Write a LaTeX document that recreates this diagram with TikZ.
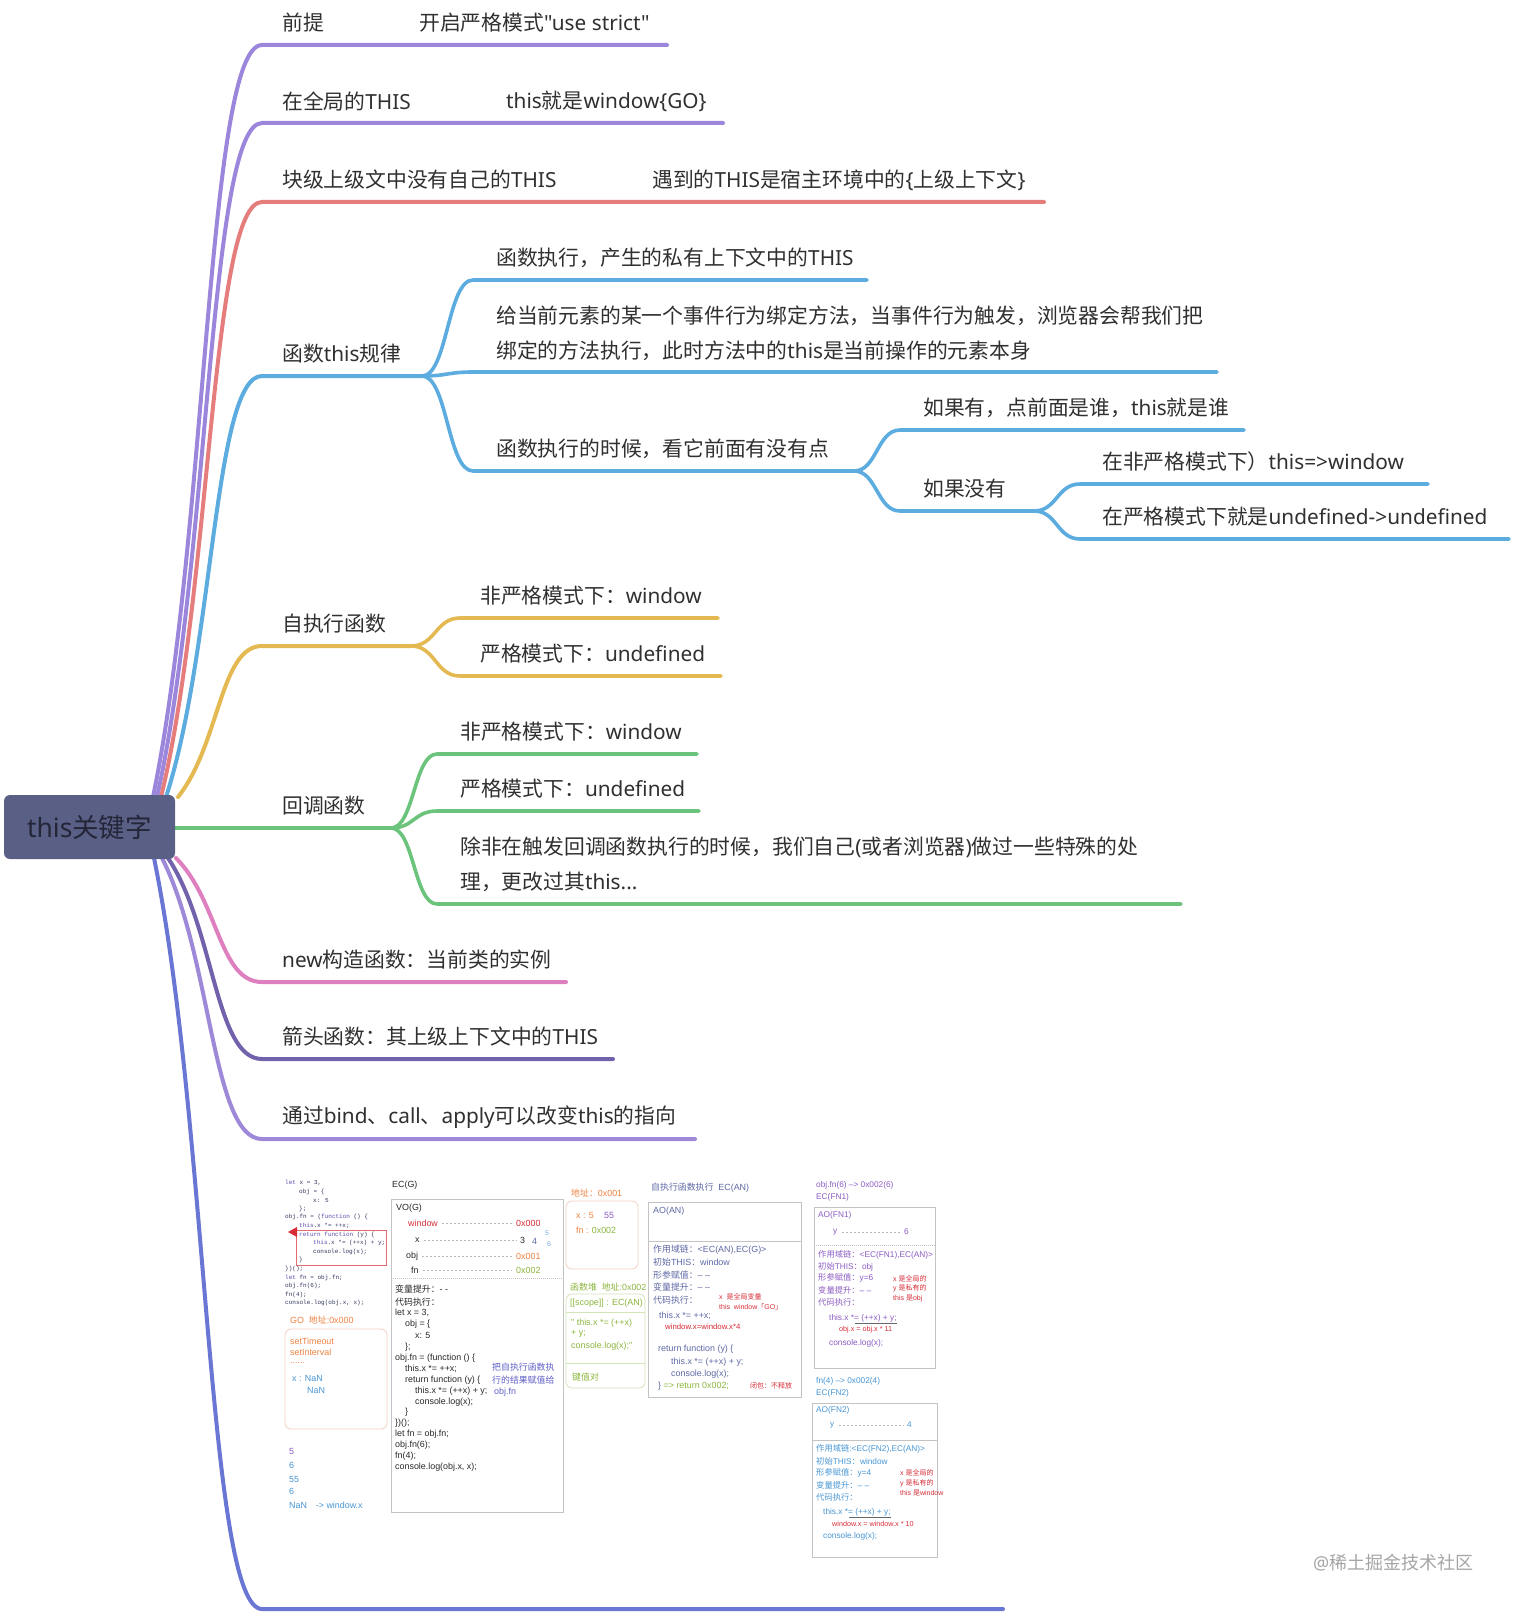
\documentclass[tikz,border=0pt]{standalone}
\usepackage{fontspec}
\setmainfont{Noto Sans}
\newfontfamily\cjkf{Noto Sans CJK SC}
\newfontfamily\latf{Noto Sans}
\newfontfamily\shotf{Liberation Sans}
\newfontfamily\codefont{Liberation Mono}
\usetikzlibrary{calc}
% automatic switching between Latin and CJK fonts
\def\latinback{\latf}
\newXeTeXintercharclass\CJKcls
\newcount\chcnt
\def\setcjkrange#1#2{\chcnt=#1\relax
 \loop \XeTeXcharclass\chcnt=\CJKcls \ifnum\chcnt<#2\relax \advance\chcnt by 1 \repeat}
\setcjkrange{"3000}{"303F}
\setcjkrange{"4E00}{"9FFF}
\setcjkrange{"FF00}{"FFEF}
\XeTeXinterchartoks 0 \CJKcls = {\cjkf}
\XeTeXinterchartoks 4095 \CJKcls = {\cjkf}
\XeTeXinterchartoks \CJKcls 0 = {\latinback}
\XeTeXinterchartoks \CJKcls 4095 = {\latinback}
\XeTeXinterchartokenstate=1
\newcommand\shotsel{\def\latinback{\shotf}\shotf}
\definecolor{cPa}{RGB}{155,134,220}
\definecolor{cR}{RGB}{229,125,125}
\definecolor{cB}{RGB}{92,172,224}
\definecolor{cY}{RGB}{228,185,82}
\definecolor{cG}{RGB}{108,196,124}
\definecolor{cPk}{RGB}{222,128,192}
\definecolor{cDP}{RGB}{114,98,172}
\definecolor{cL}{RGB}{158,136,216}
\definecolor{cBV}{RGB}{106,118,212}
\definecolor{rootfill}{RGB}{90,95,134}
\definecolor{roottext}{RGB}{36,38,56}
\definecolor{txt}{RGB}{48,48,48}
\definecolor{wm}{RGB}{165,165,165}
\definecolor{sred}{RGB}{215,45,55}
\definecolor{sorange}{RGB}{238,130,65}
\definecolor{sgreen}{RGB}{140,182,62}
\definecolor{sblue}{RGB}{72,150,212}
\definecolor{slblue}{RGB}{120,170,225}
\definecolor{sind}{RGB}{95,105,165}
\definecolor{spurple}{RGB}{140,92,195}
\definecolor{sgray}{RGB}{40,40,40}
\definecolor{sbord}{RGB}{195,195,195}
\definecolor{speach}{RGB}{243,208,192}
\definecolor{slgreen}{RGB}{212,228,185}
\definecolor{codekw}{RGB}{95,75,175}
\definecolor{codetx}{RGB}{50,55,95}
\definecolor{snote}{RGB}{95,95,200}
\newcommand\rootlink[4]{\draw[mainline,#1] let \p1=(#2), \p2=(#3) in (\p1) .. controls ({\x1+0.5*(\x2-\x1)},{\y1+0.35*(\y2-\y1)}) and ({\x2-0.5*(\x2-\x1)},\y2) .. (\p2) -- (#4);}
\newcommand\sublink[4]{\draw[subline,#1] let \p1=(#2), \p2=(#3) in (\p1) .. controls ({\x1+0.5*(\x2-\x1)},\y1) and ({\x2-0.5*(\x2-\x1)},\y2) .. (\p2) -- (#4);}
\newcommand\kw[1]{\textcolor{codekw}{#1}}
\begin{document}
\begin{tikzpicture}[x=1pt,y=-1pt,
 lbl/.style={anchor=west, inner sep=0pt, text=txt, font=\fontsize{20.8}{24}\selectfont},
 mainline/.style={line width=4pt, line cap=round},
 subline/.style={line width=3.6pt, line cap=round},
 sm/.style={anchor=west, inner sep=0pt, font=\shotsel\fontsize{8.9}{10}\selectfont},
 smf/.style={anchor=west, inner sep=0pt, font=\shotsel\fontsize{8.3}{9}\selectfont},
 ti/.style={anchor=west, inner sep=0pt, font=\shotsel\fontsize{7}{8}\selectfont, text=sred},
 cd/.style={anchor=west, inner sep=0pt, font=\codefont\fontsize{6}{7}\selectfont, text=codetx},
 leader/.style={draw=gray!55, line width=0.5pt, dash pattern=on 2pt off 2pt},
 shotbox/.style={draw=sbord, line width=0.8pt},
 rootbox/.style={fill=rootfill, rounded corners=6pt, minimum width=171pt, minimum height=64pt, inner sep=0pt, text=roottext, font=\fontsize{26.5}{30}\selectfont}
]
\useasboundingbox (0,0) rectangle (1512,1613);
\fill[white] (0,0) rectangle (1512,1613);
% ---------- coordinates ----------
\coordinate (r1) at (153,797); \coordinate (r2) at (157,797); \coordinate (r3) at (161,797);
\coordinate (r4) at (166,797); \coordinate (r5) at (178,797); \coordinate (r6) at (175,828);
\coordinate (r7) at (176,858); \coordinate (r8) at (168,858); \coordinate (r9) at (162,858);
\coordinate (r10) at (154,858);
\coordinate (b1s) at (262,45);  \coordinate (b1e) at (667,45);
\coordinate (b2s) at (262,123); \coordinate (b2e) at (723,123);
\coordinate (b3s) at (262,202); \coordinate (b3e) at (1044,202);
\coordinate (b4s) at (262,376); \coordinate (b4e) at (422,376);
\coordinate (as) at (473,280); \coordinate (ae) at (867,280);
\coordinate (bs) at (473,372); \coordinate (be) at (1217,372);
\coordinate (cs) at (473,471); \coordinate (ce) at (854,471);
\coordinate (cis) at (900,430); \coordinate (cie) at (1244,430);
\coordinate (ciis) at (900,511); \coordinate (ciie) at (1034,511);
\coordinate (d1s) at (1080,484); \coordinate (d1e) at (1428,484);
\coordinate (d2s) at (1080,539); \coordinate (d2e) at (1509,539);
\coordinate (b5s) at (262,646); \coordinate (b5e) at (411,646);
\coordinate (e1s) at (460,618); \coordinate (e1e) at (718,618);
\coordinate (e2s) at (460,676); \coordinate (e2e) at (721,676);
\coordinate (b6e) at (391,828);
\coordinate (f1s) at (437,754); \coordinate (f1e) at (697,754);
\coordinate (f2s) at (437,811); \coordinate (f2e) at (699,811);
\coordinate (f3s) at (437,904); \coordinate (f3e) at (1181,904);
\coordinate (b7s) at (262,982); \coordinate (b7e) at (566,982);
\coordinate (b8s) at (262,1059); \coordinate (b8e) at (613,1059);
\coordinate (b9s) at (262,1139); \coordinate (b9e) at (695,1139);
\coordinate (b10s) at (262,1609); \coordinate (b10e) at (1003,1609);
% ---------- connectors ----------
\rootlink{cPa}{r1}{b1s}{b1e}
\rootlink{cPa}{r2}{b2s}{b2e}
\rootlink{cR}{r3}{b3s}{b3e}
\rootlink{cB}{r4}{b4s}{b4e}
\sublink{cB}{b4e}{as}{ae}
\sublink{cB}{b4e}{bs}{be}
\sublink{cB}{b4e}{cs}{ce}
\sublink{cB}{ce}{cis}{cie}
\sublink{cB}{ce}{ciis}{ciie}
\sublink{cB}{ciie}{d1s}{d1e}
\sublink{cB}{ciie}{d2s}{d2e}
\rootlink{cY}{r5}{b5s}{b5e}
\sublink{cY}{b5e}{e1s}{e1e}
\sublink{cY}{b5e}{e2s}{e2e}
\draw[mainline,cG] (r6) -- (b6e);
\sublink{cG}{b6e}{f1s}{f1e}
\sublink{cG}{b6e}{f2s}{f2e}
\sublink{cG}{b6e}{f3s}{f3e}
\rootlink{cPk}{r7}{b7s}{b7e}
\rootlink{cDP}{r8}{b8s}{b8e}
\rootlink{cL}{r9}{b9s}{b9e}
\rootlink{cBV}{r10}{b10s}{b10e}
% ---------- root ----------
\node[rootbox] (root) at (89.5,827) {this关键字};
% ---------- labels ----------
\node[lbl] (t1) at (282,23) {前提};
\node[lbl] (t1b) at (419,23) {开启严格模式"use strict"};
\node[lbl] (t2) at (282,101) {在全局的THIS};
\node[lbl] (t2b) at (506,101) {this就是window\{GO\}};
\node[lbl] (t3) at (282,180) {块级上级文中没有自己的THIS};
\node[lbl] (t3b) at (652,180) {遇到的THIS是宿主环境中的\{上级上下文\}};
\node[lbl] (t4) at (282,354) {函数this规律};
\node[lbl] (ta) at (496,258) {函数执行，产生的私有上下文中的THIS};
\node[lbl] (tb1) at (496,316) {给当前元素的某一个事件行为绑定方法，当事件行为触发，浏览器会帮我们把};
\node[lbl] (tb2) at (496,351) {绑定的方法执行，此时方法中的this是当前操作的元素本身};
\node[lbl] (tc) at (496,449) {函数执行的时候，看它前面有没有点};
\node[lbl] (tci) at (923,408) {如果有，点前面是谁，this就是谁};
\node[lbl] (tcii) at (923,489) {如果没有};
\node[lbl] (td1) at (1102,462) {在非严格模式下）this=>window};
\node[lbl] (td2) at (1102,517) {在严格模式下就是undefined->undefined};
\node[lbl] (t5) at (282,624) {自执行函数};
\node[lbl] (te1) at (480,596) {非严格模式下：window};
\node[lbl] (te2) at (480,654) {严格模式下：undefined};
\node[lbl] (t6) at (282,806) {回调函数};
\node[lbl] (tf1) at (460,732) {非严格模式下：window};
\node[lbl] (tf2) at (460,789) {严格模式下：undefined};
\node[lbl] (tf3a) at (460,847) {除非在触发回调函数执行的时候，我们自己(或者浏览器)做过一些特殊的处};
\node[lbl] (tf3b) at (460,882) {理，更改过其this...};
\node[lbl] (t7) at (282,960) {new构造函数：当前类的实例};
\node[lbl] (t8) at (282,1037) {箭头函数：其上级上下文中的THIS};
\node[lbl] (t9) at (282,1117) {通过bind、call、apply可以改变this的指向};
\node[anchor=west, inner sep=0pt, text=wm, font=\fontsize{18}{20}\selectfont] (wmark) at (1313,1563) {@稀土掘金技术社区};
% ---------- screenshot: left code ----------
\node[cd] (k0) at (285,1183) {\kw{let} x = 3,};
\node[cd] (k1) at (299,1191.6) {obj = \{};
\node[cd] (k2) at (313,1200.2) {x: 5};
\node[cd] (k3) at (299,1208.8) {\};};
\node[cd] (k4) at (285,1217.4) {obj.fn = (\kw{function} () \{};
\node[cd] (k5) at (299,1226) {\kw{this}.x *= ++x;};
\node[cd] (k6) at (299,1234.6) {\kw{return} \kw{function} (y) \{};
\node[cd] (k7) at (313,1243.2) {\kw{this}.x *= (++x) + y;};
\node[cd] (k8) at (313,1251.8) {console.log(x);};
\node[cd] (k9) at (299,1260.4) {\}};
\node[cd] (k10) at (285,1269) {\})();};
\node[cd] (k11) at (285,1277.6) {\kw{let} fn = obj.fn;};
\node[cd] (k12) at (285,1286.2) {obj.fn(6);};
\node[cd] (k13) at (285,1294.8) {fn(4);};
\node[cd] (k14) at (285,1303.4) {console.log(obj.x, x);};
\draw[draw=sred!70, line width=0.6pt] (296,1230) rectangle (386,1265);
\fill[sred] (288,1232) -- (297,1227) -- (297,1237) -- cycle;
\node[sm, text=sorange] (go) at (290,1320) {GO\ \ 地址:0x000};
\draw[draw=speach, line width=0.8pt, rounded corners=6pt] (285,1329) rectangle (387,1429);
\node[sm, text=sorange] (st1) at (290,1341) {setTimeout};
\node[sm, text=sorange] (st2) at (290,1352) {setInterval};
\node[sm, text=sorange] (st3) at (290,1363) {......};
\node[sm, text=sblue] (nan1) at (292,1378) {x : NaN};
\node[sm, text=sblue] (nan2) at (307,1390) {NaN};
\node[sm, text=spurple] (o1) at (289,1451) {5};
\node[sm, text=sblue] (o2) at (289,1465) {6};
\node[sm, text=sblue] (o3) at (289,1479) {55};
\node[sm, text=sblue] (o4) at (289,1491) {6};
\node[sm, text=sblue] (o5) at (289,1505) {NaN\quad -> window.x};
% ---------- screenshot: EC(G) ----------
\node[sm, text=sgray] (ecg) at (392,1185) {EC(G)};
\draw[shotbox] (391,1199) rectangle (563,1512);
\draw[draw=sbord, line width=0.7pt, dash pattern=on 1pt off 1pt] (391,1278) -- (563,1278);
\node[sm, text=sgray] (vog) at (396,1208) {VO(G)};
\node[sm, text=sred] (vw) at (408,1223) {window};
\node[sm, text=sred] (v0) at (516,1223) {0x000};
\node[sm, text=sgray] (vx) at (415,1240) {x};
\node[sm, text=sgray] (v3) at (520,1240) {3};
\node[sm, text=sind] (v4) at (532,1241) {4};
\node[ti, text=slblue] (v5) at (545,1233) {5};
\node[ti, text=slblue] (v6) at (547,1244) {6};
\node[sm, text=sgray] (vobj) at (406,1256) {obj};
\node[sm, text=sorange] (v1) at (516,1256) {0x001};
\node[sm, text=sgray] (vfn) at (411,1270) {fn};
\node[sm, text=sgreen] (v2) at (516,1270) {0x002};
\draw[leader] ([xshift=4pt]vw.east) -- ([xshift=-4pt]v0.west);
\draw[leader] ([xshift=4pt]vx.east) -- ([xshift=-4pt]v3.west);
\draw[leader] ([xshift=4pt]vobj.east) -- ([xshift=-4pt]v1.west);
\draw[leader] ([xshift=4pt]vfn.east) -- ([xshift=-4pt]v2.west);
\begin{scope}[every node/.style={sm, text=sgray}]
\node (g0) at (395,1289) {变量提升：- -};
\node (g1) at (395,1302) {代码执行：};
\node (g2) at (395,1313) {let x = 3,};
\node (g3) at (405,1324) {obj = \{};
\node (g4) at (415,1335) {x: 5};
\node (g5) at (405,1347) {\};};
\node (g6) at (395,1358) {obj.fn = (function () \{};
\node (g7) at (405,1369) {this.x *= ++x;};
\node (g8) at (405,1380) {return function (y) \{};
\node (g9) at (415,1391) {this.x *= (++x) + y;};
\node (g10) at (415,1402) {console.log(x);};
\node (g11) at (405,1412) {\}};
\node (g12) at (395,1423) {\})();};
\node (g13) at (395,1434) {let fn = obj.fn;};
\node (g14) at (395,1445) {obj.fn(6);};
\node (g15) at (395,1456) {fn(4);};
\node (g16) at (395,1467) {console.log(obj.x, x);};
\end{scope}
\node[sm, text=snote] (n1) at (492,1367) {把自执行函数执};
\node[sm, text=snote] (n2) at (492,1380) {行的结果赋值给};
\node[sm, text=snote] (n3) at (494,1392) {obj.fn};
% ---------- screenshot: heaps ----------
\node[sm, text=sorange] (h1t) at (571,1193) {地址：0x001};
\draw[draw=speach, line width=0.8pt, rounded corners=6pt] (566,1201) rectangle (638,1269);
\node[sm, text=sorange] (h1a) at (576,1215) {x : 5};
\node[sm, text=spurple] (h1b) at (604,1215) {55};
\node[sm, text=sorange] (h1c) at (576,1230) {fn : \textcolor{sgreen}{0x002}};
\node[sm, text=sgreen] (h2t) at (570,1287) {函数堆\ \ 地址:0x002};
\draw[draw=slgreen, line width=0.8pt, rounded corners=6pt] (566,1294) rectangle (645,1388);
\draw[draw=slgreen, line width=0.6pt] (566,1312) -- (645,1312);
\draw[draw=slgreen, line width=0.6pt] (566,1363) -- (645,1363);
\node[sm, text=sgreen] (h2a) at (570,1303) {[[scope]] : EC(AN)};
\node[sm, text=sgreen] (h2b) at (571,1323) {" this.x *= (++x)};
\node[sm, text=sgreen] (h2c) at (571,1334) {+ y;};
\node[sm, text=sgreen] (h2d) at (571,1346) {console.log(x);"};
\node[sm, text=sgreen] (h2e) at (572,1377) {键值对};
% ---------- screenshot: EC(AN) ----------
\node[sm, text=sind] (ant) at (651,1188) {自执行函数执行\ \ EC(AN)};
\draw[shotbox] (648,1202) rectangle (801,1397);
\draw[draw=sbord, line width=0.6pt] (648,1241) -- (801,1241);
\begin{scope}[every node/.style={sm, text=sind}]
\node (an0) at (653,1211) {AO(AN)};
\node (an1) at (653,1250) {作用域链：<EC(AN),EC(G)>};
\node (an2) at (653,1262) {初始THIS：window};
\node (an3) at (653,1275) {形参赋值：– –};
\node (an4) at (653,1287) {变量提升：– –};
\node (an5) at (653,1300) {代码执行：};
\node (an6) at (659,1316) {this.x *= ++x;};
\node (an8) at (658,1349) {return function (y) \{};
\node (an9) at (671,1362) {this.x *= (++x) + y;};
\node (an10) at (671,1374) {console.log(x);};
\node (an11) at (658,1386) {\} \textcolor{sgreen}{=> return 0x002;}};
\end{scope}
\node[ti] (anr1) at (719,1297) {x\ \ 是全局变量};
\node[ti] (anr2) at (719,1307) {this\ \ window「GO」};
\node[sm, text=sred, font=\shotsel\fontsize{7.8}{9}\selectfont] (an7) at (665,1327) {window.x=window.x*4};
\node[ti] (anr3) at (750,1386) {闭包：不释放};
% ---------- screenshot: EC(FN1) ----------
\node[smf, text=spurple] (p0) at (816,1185) {obj.fn(6) –> 0x002(6)};
\node[smf, text=spurple] (p1) at (816,1197) {EC(FN1)};
\draw[shotbox] (814,1207) rectangle (935,1368);
\draw[draw=sbord, line width=0.6pt, dash pattern=on 1pt off 1pt] (814,1245) -- (935,1245);
\begin{scope}[every node/.style={smf, text=spurple}]
\node (p2) at (818,1215) {AO(FN1)};
\node (py) at (833,1232) {y};
\node (p6) at (904,1232) {6};
\node (p3) at (818,1255) {作用域链：<EC(FN1),EC(AN)>};
\node (p4) at (818,1267) {初始THIS：obj};
\node (p5) at (818,1278) {形参赋值：y=6};
\node (p7) at (818,1290) {变量提升：– –};
\node (p8) at (818,1302) {代码执行：};
\node (p9) at (829,1318) {this.x *= (++x) + y;};
\node (p10) at (829,1343) {console.log(x);};
\end{scope}
\draw[leader] ([xshift=4pt]py.east) -- ([xshift=-4pt]p6.west);
\draw[draw=sgray!70, line width=0.5pt] ([xshift=-42pt,yshift=-1.5pt]p9.south east) -- ([yshift=-1.5pt]p9.south east);
\node[ti] (pr1) at (893,1279) {x 是全局的};
\node[ti] (pr2) at (893,1288) {y 是私有的};
\node[ti] (pr3) at (893,1298) {this 是obj};
\node[ti, font=\shotsel\fontsize{7.2}{8}\selectfont] (pr4) at (839,1330) {obj.x = obj.x * 11};
% ---------- screenshot: EC(FN2) ----------
\node[smf, text=sblue] (q0) at (816,1381) {fn(4) –> 0x002(4)};
\node[smf, text=sblue] (q1) at (816,1393) {EC(FN2)};
\draw[shotbox] (812,1403) rectangle (937,1557);
\draw[draw=sbord, line width=0.6pt] (812,1440) -- (937,1440);
\begin{scope}[every node/.style={smf, text=sblue}]
\node (q2) at (816,1410) {AO(FN2)};
\node (qy) at (830,1425) {y};
\node (q4) at (907,1425) {4};
\node (q3) at (816,1449) {作用域链:<EC(FN2),EC(AN)>};
\node (q5) at (816,1461) {初始THIS：window};
\node (q6) at (816,1473) {形参赋值：y=4};
\node (q7) at (816,1485) {变量提升：– –};
\node (q8) at (816,1497) {代码执行：};
\node (q9) at (823,1512) {this.x *= (++x) + y;};
\node (q10) at (823,1536) {console.log(x);};
\end{scope}
\draw[leader] ([xshift=4pt]qy.east) -- ([xshift=-4pt]q4.west);
\draw[draw=sgray!70, line width=0.5pt] ([xshift=-42pt,yshift=-1.5pt]q9.south east) -- ([yshift=-1.5pt]q9.south east);
\node[ti] (qr1) at (900,1473) {x 是全局的};
\node[ti] (qr2) at (900,1483) {y 是私有的};
\node[ti] (qr3) at (900,1493) {this 是window};
\node[ti, font=\shotsel\fontsize{7.2}{8}\selectfont] (qr4) at (832,1524) {window.x = window.x * 10};
\end{tikzpicture}
\end{document}
